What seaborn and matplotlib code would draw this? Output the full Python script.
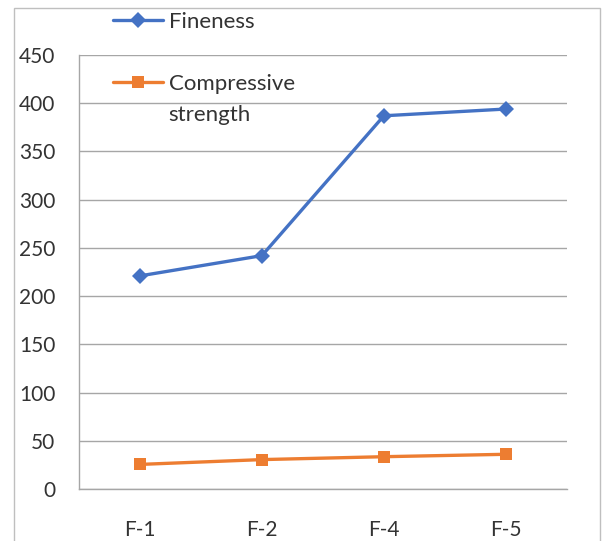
import pandas as pd
import matplotlib.pyplot as plt
import matplotlib.patches as mpatches
import matplotlib.lines as mlines
import seaborn as sns

# values
samples = ["F-1", "F-2", "F-4", "F-5"]
fineness = [221, 242, 387, 394]
compressive = [25.5, 30.5, 33.5, 36]
series_names = ["Fineness", "Compressive strength"]

data = pd.DataFrame({
    "Sample": samples * 2,
    "Value": fineness + compressive,
    "Series": [series_names[0]] * 4 + [series_names[1]] * 4,
})

sns.set_style("white")
plt.rcParams['font.family'] = ['Lato', 'DejaVu Sans']

palette = {series_names[0]: "#4472C4", series_names[1]: "#ED7D31"}
markers = {series_names[0]: "D", series_names[1]: "s"}

fig = plt.figure(figsize=(6.03, 5.41), dpi=100)
ax = fig.add_axes([0.131, 0.0961, 0.809, 0.8022])

sns.lineplot(data=data, x="Sample", y="Value", hue="Series", style="Series",
             palette=palette, markers=markers, dashes=False, sort=False,
             linewidth=2.4, markersize=8, markeredgewidth=0, ax=ax)

ax.set_xlim(-0.5, 3.5)
ax.set_ylim(0, 450)
ax.set_yticks(range(0, 451, 50))
ax.yaxis.grid(True, color="#A6A6A6", linewidth=1)
ax.set_axisbelow(True)
ax.set_xlabel("")
ax.set_ylabel("")

for side in ["top", "right"]:
    ax.spines[side].set_visible(False)
for side in ["left", "bottom"]:
    ax.spines[side].set_color("#A6A6A6")
    ax.spines[side].set_linewidth(1)

# category boundary ticks on x, outward ticks on y
ax.set_xticks([-0.5, 0.5, 1.5, 2.5, 3.5], minor=True)
ax.tick_params(axis="x", which="major", length=0, pad=22, labelsize=15, labelcolor="#333333")
ax.tick_params(axis="x", which="minor", length=7, color="#A6A6A6", width=1)
ax.tick_params(axis="y", which="major", length=9, color="#A6A6A6", width=1, pad=8,
               labelsize=15, labelcolor="#333333")

# legend like the Excel one: long label wraps, handle sits on the first line
handles, labels = ax.get_legend_handles_labels()
blank = mlines.Line2D([], [], color="none")
ax.get_legend().remove()
leg = fig.legend([handles[0], blank, handles[1], blank],
                 ["Fineness", "", "Compressive", "strength"],
                 loc="upper left", bbox_to_anchor=(113 / 603, 1 - 12 / 541),
                 bbox_transform=fig.transFigure, frameon=False, borderpad=0,
                 borderaxespad=0, fontsize=16, handlelength=2.25, handletextpad=0.25,
                 labelspacing=0.5, labelcolor="#333333")

# outer chart border
fig.patches.append(mpatches.Rectangle((14 / 603, -0.01), 586 / 603, 1 - 8 / 541 + 0.01,
                                      transform=fig.transFigure, fill=False,
                                      edgecolor="#BFBFBF", linewidth=1))

plt.savefig("out.png", dpi=100)
